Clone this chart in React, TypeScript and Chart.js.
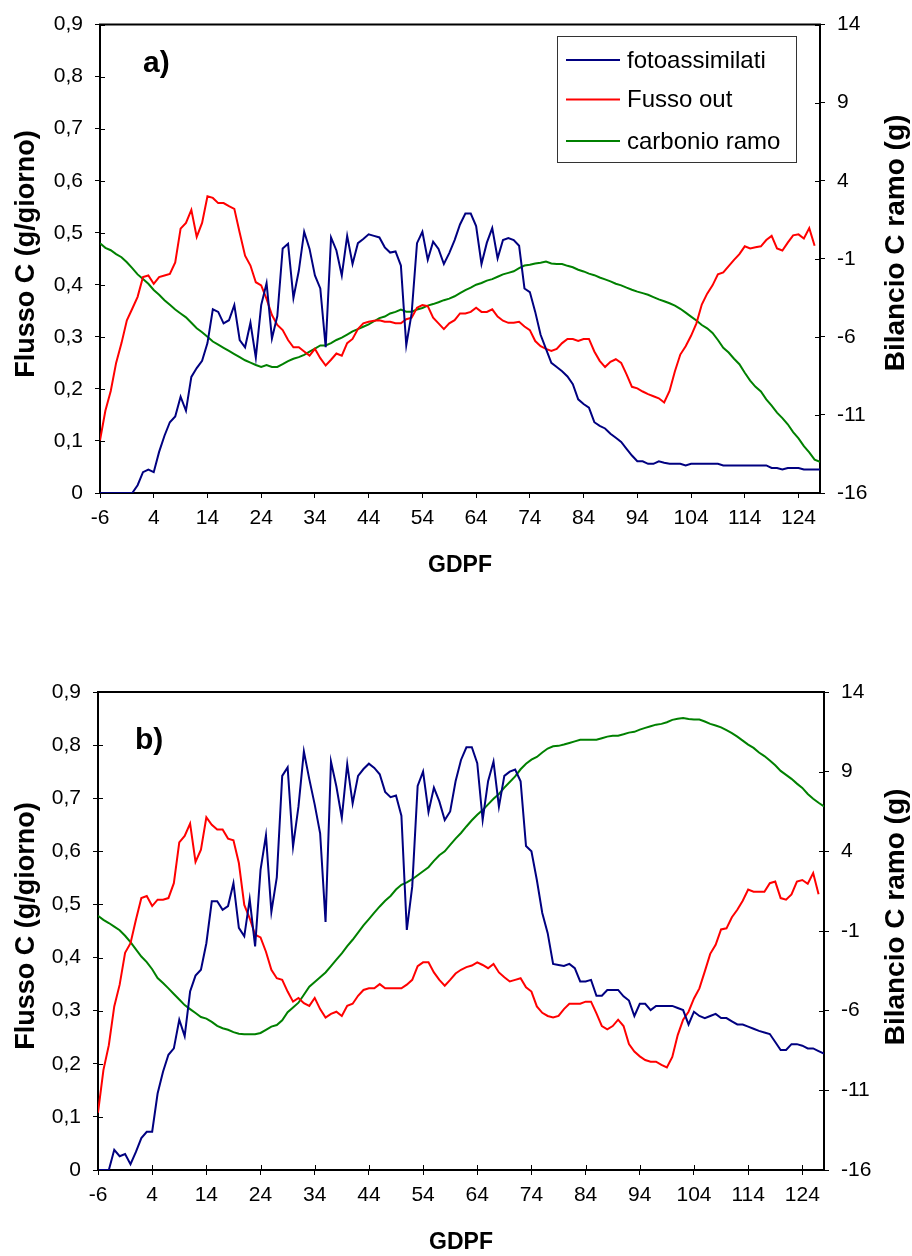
import React, { useEffect, useRef } from "react";
import { Chart, registerables } from "chart.js";

Chart.register(...registerables);

const FONT = '"Liberation Sans", Arial, Helvetica, sans-serif';

// ---- categories / ticks ----
const days = [
  -6, -5, -4, -3, -2, -1, 0, 1, 2, 3,
  4, 5, 6, 7, 8, 9, 10, 11, 12, 13,
  14, 15, 16, 17, 18, 19, 20, 21, 22, 23,
  24, 25, 26, 27, 28, 29, 30, 31, 32, 33,
  34, 35, 36, 37, 38, 39, 40, 41, 42, 43,
  44, 45, 46, 47, 48, 49, 50, 51, 52, 53,
  54, 55, 56, 57, 58, 59, 60, 61, 62, 63,
  64, 65, 66, 67, 68, 69, 70, 71, 72, 73,
  74, 75, 76, 77, 78, 79, 80, 81, 82, 83,
  84, 85, 86, 87, 88, 89, 90, 91, 92, 93,
  94, 95, 96, 97, 98, 99, 100, 101, 102, 103,
  104, 105, 106, 107, 108, 109, 110, 111, 112, 113,
  114, 115, 116, 117, 118, 119, 120, 121, 122, 123,
  124, 125, 126, 127, 128,
];
const xTicks = [-6, 4, 14, 24, 34, 44, 54, 64, 74, 84, 94, 104, 114, 124];
const leftTicks = [0, 0.1, 0.2, 0.3, 0.4, 0.5, 0.6, 0.7, 0.8, 0.9];
const rightTicks = [-16, -11, -6, -1, 4, 9, 14];
const seriesNames = ["fotoassimilati", "Fusso out", "carbonio ramo"];
const seriesColors = ["#000080", "#FF0000", "#008000"];
const leftTitle = "Flusso C (g/giorno)";
const rightTitle = "Bilancio C ramo (g)";
const xTitle = "GDPF";
const panelLabels = ["a)", "b)"];

// ---- panel a) ----
const aFoto = [
  0, 0, 0, 0, 0, 0, 0, 0.015, 0.04, 0.045,
  0.04, 0.079, 0.11, 0.136, 0.147, 0.185, 0.158, 0.223, 0.24, 0.254,
  0.288, 0.353, 0.348, 0.326, 0.332, 0.361, 0.294, 0.28, 0.327, 0.26,
  0.361, 0.403, 0.297, 0.34, 0.47, 0.479, 0.375, 0.427, 0.502, 0.469,
  0.418, 0.393, 0.28, 0.491, 0.466, 0.418, 0.494, 0.44, 0.48, 0.488,
  0.497, 0.494, 0.491, 0.472, 0.462, 0.464, 0.437, 0.284, 0.345, 0.48,
  0.502, 0.448, 0.483, 0.469, 0.44, 0.461, 0.486, 0.516, 0.537, 0.537,
  0.513, 0.44, 0.481, 0.509, 0.451, 0.486, 0.49, 0.486, 0.475, 0.393,
  0.386, 0.348, 0.304, 0.277, 0.25, 0.242, 0.234, 0.224, 0.209, 0.18,
  0.171, 0.164, 0.136, 0.129, 0.124, 0.114, 0.106, 0.098, 0.085, 0.072,
  0.061, 0.061, 0.056, 0.056, 0.061, 0.058, 0.056, 0.056, 0.056, 0.053,
  0.056, 0.056, 0.056, 0.056, 0.056, 0.056, 0.053, 0.053, 0.053, 0.053,
  0.053, 0.053, 0.053, 0.053, 0.053, 0.048, 0.048, 0.045, 0.048, 0.048,
  0.048, 0.045, 0.045, 0.045, 0.045,
];
const aFlusso = [
  0.101, 0.158, 0.196, 0.25, 0.288, 0.332, 0.354, 0.377, 0.415, 0.418,
  0.402, 0.415, 0.418, 0.421, 0.443, 0.508, 0.519, 0.544, 0.492, 0.519,
  0.57, 0.567, 0.557, 0.557, 0.551, 0.546, 0.5, 0.456, 0.437, 0.405,
  0.399, 0.373, 0.342, 0.323, 0.313, 0.294, 0.28, 0.28, 0.272, 0.264,
  0.277, 0.259, 0.245, 0.256, 0.268, 0.264, 0.288, 0.296, 0.315, 0.326,
  0.329, 0.331, 0.332, 0.329, 0.329, 0.326, 0.326, 0.334, 0.337, 0.356,
  0.361, 0.359, 0.337, 0.326, 0.315, 0.326, 0.332, 0.345, 0.345, 0.348,
  0.356, 0.348, 0.348, 0.353, 0.339, 0.331, 0.327, 0.327, 0.329, 0.32,
  0.313, 0.292, 0.282, 0.277, 0.273, 0.277, 0.288, 0.296, 0.296, 0.292,
  0.296, 0.296, 0.272, 0.254, 0.242, 0.252, 0.257, 0.25, 0.228, 0.204,
  0.201, 0.195, 0.19, 0.186, 0.182, 0.174, 0.196, 0.234, 0.266, 0.282,
  0.302, 0.326, 0.362, 0.383, 0.399, 0.42, 0.424, 0.436, 0.448, 0.459,
  0.474, 0.47, 0.472, 0.474, 0.486, 0.494, 0.47, 0.466, 0.481, 0.495,
  0.497, 0.489, 0.509, 0.475, null,
];
const aCarbonio = [
  0.0, -0.3, -0.45, -0.7, -0.9, -1.22, -1.6, -2.0, -2.3, -2.6,
  -3.0, -3.3, -3.65, -3.95, -4.25, -4.5, -4.75, -5.1, -5.45, -5.7,
  -6.0, -6.3, -6.5, -6.7, -6.9, -7.1, -7.3, -7.5, -7.65, -7.8,
  -7.93, -7.8, -7.93, -7.93, -7.75, -7.55, -7.4, -7.3, -7.15, -6.95,
  -6.75, -6.55, -6.55, -6.4, -6.2, -6.05, -5.85, -5.65, -5.5, -5.35,
  -5.2, -5.0, -4.8, -4.7, -4.5, -4.4, -4.25, -4.39, -4.39, -4.25,
  -4.15, -4.0, -3.9, -3.78, -3.65, -3.55, -3.4, -3.2, -3.0, -2.85,
  -2.66, -2.55, -2.4, -2.3, -2.15, -2.0, -1.9, -1.8, -1.6, -1.43,
  -1.38, -1.3, -1.25, -1.18, -1.3, -1.33, -1.33, -1.45, -1.54, -1.7,
  -1.81, -1.95, -2.05, -2.2, -2.32, -2.45, -2.6, -2.7, -2.85, -2.98,
  -3.1, -3.2, -3.3, -3.45, -3.6, -3.72, -3.85, -4.0, -4.2, -4.45,
  -4.7, -4.95, -5.24, -5.45, -5.75, -6.2, -6.7, -7.0, -7.4, -7.75,
  -8.3, -8.8, -9.2, -9.5, -10.0, -10.4, -10.85, -11.2, -11.6, -12.1,
  -12.5, -13.0, -13.4, -13.86, -14.0,
];

// ---- panel b) ----
const bFoto = [
  0, 0, 0, 0.038, 0.026, 0.03, 0.011, 0.034, 0.06, 0.072,
  0.072, 0.144, 0.185, 0.217, 0.229, 0.283, 0.252, 0.336, 0.366, 0.377,
  0.427, 0.506, 0.506, 0.49, 0.497, 0.54, 0.456, 0.44, 0.51, 0.421,
  0.565, 0.63, 0.486, 0.551, 0.742, 0.758, 0.609, 0.684, 0.788, 0.736,
  0.688, 0.634, 0.467, 0.769, 0.722, 0.663, 0.764, 0.69, 0.742, 0.755,
  0.765, 0.757, 0.745, 0.712, 0.702, 0.705, 0.667, 0.452, 0.534, 0.723,
  0.75, 0.674, 0.72, 0.694, 0.659, 0.675, 0.732, 0.772, 0.796, 0.796,
  0.766, 0.659, 0.732, 0.769, 0.684, 0.742, 0.75, 0.754, 0.732, 0.61,
  0.6, 0.546, 0.484, 0.446, 0.388, 0.386, 0.384, 0.388, 0.38, 0.355,
  0.355, 0.358, 0.328, 0.328, 0.339, 0.339, 0.339, 0.327, 0.319, 0.29,
  0.313, 0.313, 0.301, 0.309, 0.309, 0.309, 0.309, 0.305, 0.301, 0.274,
  0.298, 0.29, 0.286, 0.29, 0.294, 0.286, 0.286, 0.28, 0.274, 0.274,
  0.27, 0.266, 0.262, 0.259, 0.256, 0.241, 0.226, 0.226, 0.237, 0.237,
  0.234, 0.229, 0.229, 0.224, 0.219,
];
const bFlusso = [
  0.108, 0.188, 0.235, 0.308, 0.349, 0.409, 0.427, 0.471, 0.512, 0.516,
  0.497, 0.509, 0.509, 0.512, 0.54, 0.617, 0.629, 0.652, 0.58, 0.603,
  0.664, 0.65, 0.641, 0.641, 0.624, 0.621, 0.578, 0.499, 0.474, 0.443,
  0.438, 0.411, 0.377, 0.361, 0.358, 0.336, 0.317, 0.324, 0.314, 0.309,
  0.324, 0.303, 0.287, 0.294, 0.298, 0.29, 0.309, 0.313, 0.328, 0.339,
  0.342, 0.342, 0.35, 0.342, 0.342, 0.342, 0.342, 0.349, 0.358, 0.384,
  0.391, 0.391, 0.372, 0.358, 0.347, 0.358, 0.37, 0.377, 0.382, 0.385,
  0.391, 0.386, 0.38, 0.388, 0.372, 0.363, 0.355, 0.358, 0.361, 0.344,
  0.336, 0.308, 0.296, 0.29, 0.287, 0.29, 0.303, 0.313, 0.313, 0.313,
  0.317, 0.317, 0.295, 0.271, 0.265, 0.271, 0.283, 0.271, 0.237, 0.223,
  0.214, 0.207, 0.204, 0.204, 0.198, 0.193, 0.213, 0.254, 0.283, 0.298,
  0.323, 0.342, 0.374, 0.407, 0.424, 0.453, 0.455, 0.476, 0.49, 0.507,
  0.528, 0.524, 0.524, 0.524, 0.54, 0.543, 0.512, 0.509, 0.519, 0.543,
  0.546, 0.539, 0.559, 0.519, null,
];
const bCarbonio = [
  -0.05, -0.3, -0.5, -0.72, -0.95, -1.3, -1.7, -2.15, -2.6, -2.95,
  -3.4, -3.95, -4.27, -4.6, -4.95, -5.3, -5.65, -5.9, -6.15, -6.4,
  -6.5, -6.7, -6.95, -7.1, -7.2, -7.35, -7.45, -7.48, -7.48, -7.48,
  -7.4, -7.2, -7.0, -6.9, -6.6, -6.1, -5.8, -5.5, -5.0, -4.5,
  -4.2, -3.9, -3.6, -3.2, -2.8, -2.4, -1.95, -1.55, -1.1, -0.65,
  -0.25, 0.15, 0.54, 0.9, 1.2, 1.6, 1.9, 2.05, 2.25, 2.5,
  2.75, 3.0, 3.4, 3.75, 4.0, 4.4, 4.8, 5.15, 5.56, 5.95,
  6.3, 6.6, 6.95, 7.3, 7.6, 8.0, 8.35, 8.7, 9.15, 9.5,
  9.75, 9.92, 10.2, 10.45, 10.59, 10.62, 10.7, 10.8, 10.9, 11.0,
  11.0, 11.0, 11.0, 11.1, 11.2, 11.26, 11.26, 11.35, 11.45, 11.5,
  11.64, 11.75, 11.85, 11.95, 12.0, 12.1, 12.25, 12.32, 12.37, 12.3,
  12.27, 12.27, 12.15, 12.0, 11.9, 11.78, 11.6, 11.42, 11.2, 10.95,
  10.7, 10.49, 10.2, 9.98, 9.7, 9.4, 9.05, 8.8, 8.55, 8.25,
  7.98, 7.6, 7.3, 7.05, 6.82,
];

type PanelSpec = {
  top: number;
  height: number;
  padTop: number;
  leftW: number;
  rightW: number;
  xAxisH: number;
  label: string;
  labelX: number;
  labelY: number;
  xTitleY: number;
  leftTitleY: number;
  rightTitleY: number;
  showLegend: boolean;
  innerXTicks: boolean;
  series: (number | null)[][];
};

const fmtLeft = (v: number) => (v === 0 ? "0" : v.toFixed(1).replace(".", ","));

function toPoints(vals: (number | null)[]) {
  return days.map((d, i) => ({ x: d, y: vals[i] === undefined ? null : vals[i] }));
}

function makeDecor(p: PanelSpec) {
  return {
    id: "panelDecor",
    afterDraw(chart: any) {
      const ctx: CanvasRenderingContext2D = chart.ctx;
      const ca = chart.chartArea;
      const sx = chart.scales.x;
      const sy = chart.scales.y;
      const sy2 = chart.scales.y2;
      ctx.save();
      // top frame line
      ctx.strokeStyle = "#000";
      ctx.lineWidth = 2;
      ctx.beginPath();
      ctx.moveTo(ca.left - 1, ca.top);
      ctx.lineTo(ca.right + 1, ca.top);
      ctx.stroke();
      // inward tick marks
      ctx.lineWidth = 1;
      ctx.beginPath();
      sy.ticks.forEach((t: any) => {
        const py = Math.round(sy.getPixelForValue(t.value)) + 0.5;
        ctx.moveTo(ca.left, py);
        ctx.lineTo(ca.left + 5, py);
      });
      sy2.ticks.forEach((t: any) => {
        const py = Math.round(sy2.getPixelForValue(t.value)) + 0.5;
        ctx.moveTo(ca.right, py);
        ctx.lineTo(ca.right - 5, py);
      });
      if (p.innerXTicks) {
        sx.ticks.forEach((t: any) => {
          const px = Math.round(sx.getPixelForValue(t.value)) + 0.5;
          ctx.moveTo(px, ca.bottom);
          ctx.lineTo(px, ca.bottom - 5);
        });
      }
      ctx.stroke();

      ctx.fillStyle = "#000";
      ctx.textAlign = "center";
      ctx.textBaseline = "middle";
      // left title
      ctx.font = `bold 27px ${FONT}`;
      ctx.save();
      ctx.translate(27, p.leftTitleY);
      ctx.rotate(-Math.PI / 2);
      ctx.fillText(leftTitle, 0, 0);
      ctx.restore();
      // right title
      ctx.font = `bold 28px ${FONT}`;
      ctx.save();
      ctx.translate(896, p.rightTitleY);
      ctx.rotate(-Math.PI / 2);
      ctx.fillText(rightTitle, 0, 0);
      ctx.restore();
      // x title
      ctx.font = `bold 23px ${FONT}`;
      ctx.fillText(xTitle, (ca.left + ca.right) / 2, p.xTitleY);
      // panel label
      ctx.textAlign = "left";
      ctx.textBaseline = "alphabetic";
      ctx.font = `bold 30px ${FONT}`;
      ctx.fillText(p.label, p.labelX, p.labelY);

      // legend
      if (p.showLegend) {
        const bx = 557, by = 36, bw = 239, bh = 126;
        ctx.fillStyle = "#fff";
        ctx.fillRect(bx, by, bw, bh);
        ctx.strokeStyle = "#333";
        ctx.lineWidth = 1;
        ctx.strokeRect(bx + 0.5, by + 0.5, bw, bh);
        ctx.font = `24px ${FONT}`;
        ctx.textBaseline = "middle";
        const rows = [60, 99.5, 141];
        seriesNames.forEach((name, i) => {
          ctx.strokeStyle = seriesColors[i];
          ctx.lineWidth = 2;
          ctx.beginPath();
          ctx.moveTo(566, rows[i]);
          ctx.lineTo(620, rows[i]);
          ctx.stroke();
          ctx.fillStyle = "#000";
          ctx.fillText(name, 627, rows[i] + 1);
        });
      }
      ctx.restore();
    },
  };
}

function makeConfig(p: PanelSpec): any {
  const tickFont = { family: FONT, size: 21 };
  const grid = {
    display: true,
    drawOnChartArea: false,
    drawTicks: true,
    tickLength: 5,
    color: "#000",
    lineWidth: 1,
  };
  const border = { display: true, color: "#000", width: 2 };
  return {
    type: "line",
    data: {
      datasets: p.series.map((vals, i) => ({
        label: seriesNames[i],
        data: toPoints(vals),
        borderColor: seriesColors[i],
        backgroundColor: seriesColors[i],
        borderWidth: 2,
        pointRadius: 0,
        tension: 0,
        fill: false,
        yAxisID: i === 2 ? "y2" : "y",
      })),
    },
    options: {
      responsive: false,
      animation: false,
      devicePixelRatio: 1,
      layout: { padding: { top: p.padTop, left: 0, right: 0, bottom: 0 } },
      plugins: { legend: { display: false }, tooltip: { enabled: false } },
      scales: {
        x: {
          type: "linear",
          min: -6,
          max: 128,
          grid,
          border,
          afterBuildTicks: (s: any) => {
            s.ticks = xTicks.map((v) => ({ value: v }));
          },
          afterFit: (s: any) => {
            s.height = p.xAxisH;
          },
          ticks: {
            font: tickFont,
            color: "#000",
            padding: 8,
            maxRotation: 0,
            autoSkip: false,
            callback: (v: number) => String(v),
          },
        },
        y: {
          type: "linear",
          position: "left",
          min: 0,
          max: 0.9,
          grid,
          border,
          afterBuildTicks: (s: any) => {
            s.ticks = leftTicks.map((v) => ({ value: v }));
          },
          afterFit: (s: any) => {
            s.width = p.leftW;
          },
          ticks: {
            font: tickFont,
            color: "#000",
            padding: 12,
            autoSkip: false,
            callback: (v: number) => fmtLeft(v),
          },
        },
        y2: {
          type: "linear",
          position: "right",
          min: -16,
          max: 14,
          grid,
          border,
          afterBuildTicks: (s: any) => {
            s.ticks = rightTicks.map((v) => ({ value: v }));
          },
          afterFit: (s: any) => {
            s.width = p.rightW;
          },
          ticks: {
            font: tickFont,
            color: "#000",
            padding: 12,
            autoSkip: false,
            callback: (v: number) => String(v),
          },
        },
      },
    },
    plugins: [makeDecor(p)],
  };
}

function PanelChart({ spec }: { spec: PanelSpec }) {
  const ref = useRef<HTMLCanvasElement | null>(null);
  useEffect(() => {
    if (!ref.current) return;
    const chart = new Chart(ref.current, makeConfig(spec));
    return () => chart.destroy();
  }, [spec]);
  return (
    <div style={{ position: "absolute", left: 0, top: spec.top, width: 912, height: spec.height }}>
      <canvas ref={ref} width={912} height={spec.height} style={{ width: 912, height: spec.height, display: "block" }} />
    </div>
  );
}

const panelA: PanelSpec = {
  top: 0,
  height: 628,
  padTop: 20,
  leftW: 100,
  rightW: 92,
  xAxisH: 135,
  label: panelLabels[0],
  labelX: 143,
  labelY: 72,
  xTitleY: 566,
  leftTitleY: 254,
  rightTitleY: 243,
  showLegend: true,
  innerXTicks: false,
  series: [aFoto, aFlusso, aCarbonio],
};

const panelB: PanelSpec = {
  top: 628,
  height: 628,
  padTop: 64,
  leftW: 98,
  rightW: 88,
  xAxisH: 86,
  label: panelLabels[1],
  labelX: 135,
  labelY: 121,
  xTitleY: 615,
  leftTitleY: 298,
  rightTitleY: 289,
  showLegend: false,
  innerXTicks: true,
  series: [bFoto, bFlusso, bCarbonio],
};

export default function App() {
  return (
    <div style={{ position: "absolute", left: 0, top: 0, width: 912, height: 1256, background: "#fff" }}>
      <PanelChart spec={panelA} />
      <PanelChart spec={panelB} />
    </div>
  );
}
